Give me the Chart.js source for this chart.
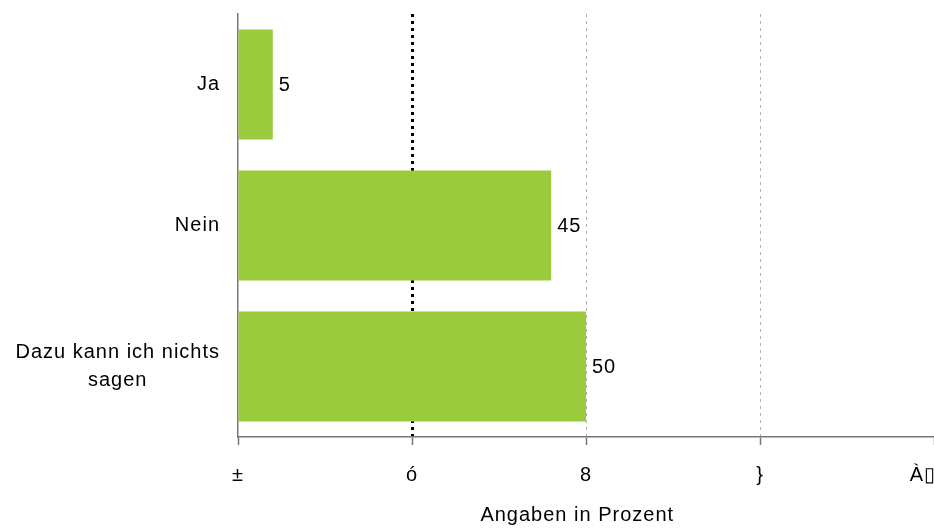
<!DOCTYPE html>
<html>
<head>
<meta charset="utf-8">
<script src="https://cdn.jsdelivr.net/npm/chart.js@4.4.0/dist/chart.umd.min.js"></script>
<style>
html,body{margin:0;padding:0;background:#fff;overflow:hidden;}
#wrap{width:934px;height:528px;position:relative;}
</style>
</head>
<body>
<div id="wrap"><canvas id="c" width="934" height="528"></canvas></div>
<script>
const categories = [
  ["Ja"],
  ["Nein"],
  ["Dazu kann ich nichts", "sagen\u2002\u2002\u2002\u2002\u2002\u2002 "]
];
const values = [5, 45, 50];
const tickValues = [0, 25, 50, 75, 100];
const tickLabels = ["±", "ó", "8", "}", "À\u25AF\u2002\u2002"];
const axisTitle = "Angaben in Prozent\u2002 ";

const FONT = "'Liberation Sans', Arial, sans-serif";
const SPACING = '1px';

const spacingPlugin = {
  id: 'spacing',
  beforeLayout(chart) { chart.ctx.letterSpacing = SPACING; },
  beforeDraw(chart) { chart.ctx.letterSpacing = SPACING; }
};

const valueLabels = {
  id: 'valueLabels',
  afterDatasetsDraw(chart) {
    const ctx = chart.ctx;
    const meta = chart.getDatasetMeta(0);
    ctx.save();
    ctx.letterSpacing = SPACING;
    ctx.font = "20px " + FONT;
    ctx.fillStyle = '#000';
    ctx.textAlign = 'left';
    ctx.textBaseline = 'middle';
    meta.data.forEach((bar, i) => {
      ctx.fillText(String(values[i]), bar.x + 6, bar.y + 1);
    });
    ctx.restore();
  }
};

new Chart(document.getElementById('c'), {
  type: 'bar',
  data: {
    labels: categories,
    datasets: [{
      data: values,
      backgroundColor: '#9acb3d',
      borderWidth: 0,
      categoryPercentage: 1.0,
      barPercentage: 0.78
    }]
  },
  options: {
    indexAxis: 'y',
    responsive: false,
    animation: false,
    devicePixelRatio: 1,
    layout: { padding: { left: 10, top: 14, right: 0, bottom: 0 } },
    plugins: { legend: { display: false }, tooltip: { enabled: false } },
    scales: {
      x: {
        type: 'linear',
        min: 0, max: 100,
        afterBuildTicks(scale) { scale.ticks = tickValues.map(v => ({ value: v })); },
        afterFit(scale) { scale.paddingRight = 0; scale.paddingLeft = 0; scale.height = 91; },
        ticks: {
          callback: (v, i) => tickLabels[i],
          color: '#000',
          font: { size: 20, family: FONT, lineHeight: 1.2 },
          padding: 18,
          maxRotation: 0,
          autoSkip: false
        },
        grid: {
          display: true,
          drawOnChartArea: true,
          drawTicks: true,
          tickLength: 8,
          tickColor: '#777',
          tickWidth: 1.5,
          color: (ctx) => {
            const v = ctx.tick ? ctx.tick.value : null;
            if (v === 25) return '#000';
            if (v === 50 || v === 75) return '#b0b0b0';
            return 'rgba(0,0,0,0)';
          },
          lineWidth: (ctx) => {
            const v = ctx.tick ? ctx.tick.value : null;
            return v === 25 ? 3 : 1;
          }
        },
        border: { display: true, color: '#777', width: 1.5, dash: [3, 4] },
        title: {
          display: true,
          text: axisTitle,
          color: '#000',
          font: { size: 20, family: FONT, lineHeight: 1.2 },
          padding: { top: 16, bottom: 1 }
        }
      },
      y: {
        afterFit(scale) { scale.width = 228; scale.paddingTop = 0; scale.paddingBottom = 0; },
        grid: { display: false, drawTicks: false },
        border: { display: true, color: '#777', width: 1.5 },
        ticks: {
          color: '#000',
          font: { size: 20, family: FONT, lineHeight: 1.4 },
          padding: 18,
          autoSkip: false
        }
      }
    }
  },
  plugins: [spacingPlugin, valueLabels]
});
</script>
</body>
</html>
